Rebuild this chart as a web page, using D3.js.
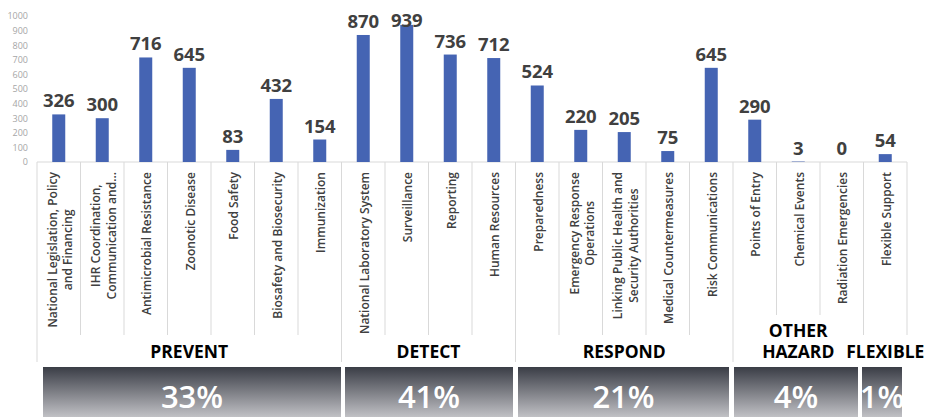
<!DOCTYPE html>
<html>
<head>
<meta charset="utf-8">
<script src="https://cdn.jsdelivr.net/npm/d3@7"></script>
<style>
  body { margin: 0; background: #fff; }
  svg { display: block; font-family: "Open Sans", "Noto Sans", sans-serif; }
</style>
</head>
<body>
<div id="chart"></div>
<script>
// categories (line breaks as in the picture)
const categories = [
  "National Legislation, Policy\nand Financing",
  "IHR Coordination,\nCommunication and...",
  "Antimicrobial Resistance",
  "Zoonotic Disease",
  "Food Safety",
  "Biosafety and Biosecurity",
  "Immunization",
  "National Laboratory System",
  "Surveillance",
  "Reporting",
  "Human Resources",
  "Preparedness",
  "Emergency Response\nOperations",
  "Linking Public Health and\nSecurity Authorities",
  "Medical Countermeasures",
  "Risk Communications",
  "Points of Entry",
  "Chemical Events",
  "Radiation Emergencies",
  "Flexible Support"
];
const values = [326, 300, 716, 645, 83, 432, 154, 870, 939, 736, 712, 524, 220, 205, 75, 645, 290, 3, 0, 54];

const groupNames = ["PREVENT", "DETECT", "RESPOND", "OTHER\nHAZARD", "FLEXIBLE"];
const groupSizes = [7, 4, 5, 3, 1];
const groupShares = ["33%", "41%", "21%", "4%", "1%"];

const yTicks = [0, 100, 200, 300, 400, 500, 600, 700, 800, 900, 1000];

const width = 936, height = 417;
const left = 37, right = 907, baseY = 162, topY = 16;

const svg = d3.select("#chart").append("svg")
  .attr("width", width).attr("height", height);

const x = d3.scaleBand().domain(d3.range(categories.length)).range([left, right]).padding(0);
const y = d3.scaleLinear().domain([0, 1000]).range([baseY, topY]);

// y axis, labels only
const yAxis = svg.append("g")
  .attr("transform", `translate(${left - 3},0)`)
  .call(d3.axisLeft(y).tickValues(yTicks).tickFormat(d3.format("d")).tickSize(0).tickPadding(6));
yAxis.select(".domain").remove();
yAxis.selectAll("text").attr("fill", "#a6a6a6").style("font-size", "9px")
  .style("font-family", "'Open Sans', sans-serif");

// group index ranges
let start = 0;
const groups = groupNames.map((name, i) => {
  const g = { name, share: groupShares[i], start, end: start + groupSizes[i] };
  start += groupSizes[i];
  return g;
});
const groupStarts = new Set(groups.map(g => g.start));

// separator lines
const lineColor = "#d9d9d9";
const sep = svg.append("g");
for (let i = 0; i <= categories.length; i++) {
  const xx = i === categories.length ? x.range()[1] : x(i);
  let bottom = 335;
  if (i === 0 || (groupStarts.has(i) && i < 19)) bottom = 362;
  if (i === 17 || i === 18) bottom = 315;
  sep.append("line")
    .attr("x1", xx).attr("x2", xx).attr("y1", baseY).attr("y2", bottom)
    .attr("stroke", lineColor).attr("stroke-width", 1);
}
svg.append("line")
  .attr("x1", left).attr("x2", right).attr("y1", baseY).attr("y2", baseY)
  .attr("stroke", lineColor);

// bars
const barW = 13;
svg.append("g").selectAll("rect").data(values).join("rect")
  .attr("x", (d, i) => x(i) + x.bandwidth() / 2 - barW / 2)
  .attr("y", d => y(d))
  .attr("width", barW)
  .attr("height", d => baseY - y(d))
  .attr("fill", "#4564b3");

// value labels (kept inside the plot area like the original)
svg.append("g").selectAll("text").data(values).join("text")
  .attr("x", (d, i) => x(i) + x.bandwidth() / 2)
  .attr("y", d => Math.max(y(d) - 7, 27))
  .attr("text-anchor", "middle")
  .attr("fill", "#404040")
  .style("font-size", "18.5px")
  .style("font-weight", "bold")
  .text(d => d);

// category labels, rotated
const catG = svg.append("g");
categories.forEach((c, i) => {
  const lines = c.split("\n");
  const cx = x(i) + x.bandwidth() / 2;
  const t = catG.append("text")
    .attr("fill", "#404040")
    .style("font-size", "12px")
    .style("font-weight", 600)
    .attr("text-anchor", "middle");
  lines.forEach((ln, j) => t.append("tspan").text(ln));
  const maxLen = d3.max(t.selectAll("tspan").nodes(), n => n.getComputedTextLength());
  const lh = 15.5;
  const off = (lines.length - 1) * lh / 2;
  t.selectAll("tspan")
    .attr("x", 0)
    .attr("y", (d, j) => j * lh - off)
    .attr("dy", "0.35em");
  t.attr("transform", `translate(${cx + 1.5},${172 + maxLen / 2}) rotate(-90)`);
});

// group labels
const grpG = svg.append("g");
groups.forEach(g => {
  const x0 = x(g.start), x1 = g.end === categories.length ? right : x(g.end);
  const lines = g.name.split("\n");
  const t = grpG.append("text")
    .attr("text-anchor", "middle")
    .attr("fill", "#000")
    .style("font-size", "17.5px")
    .style("font-weight", "bold");
  lines.forEach((ln, j) => t.append("tspan").text(ln));
  const w = d3.max(t.selectAll("tspan").nodes(), n => n.getComputedTextLength());
  const cx = Math.min((x0 + x1) / 2, width - 3 - w / 2);
  t.selectAll("tspan")
    .attr("x", cx)
    .attr("y", (d, j) => 358 - (lines.length - 1 - j) * 21.5);
});

// share boxes with gradient
const defs = svg.append("defs");
const grad = defs.append("linearGradient").attr("id", "boxGrad")
  .attr("x1", 0).attr("y1", 0).attr("x2", 0).attr("y2", 1);
grad.append("stop").attr("offset", "0%").attr("stop-color", "#3a3d46");
grad.append("stop").attr("offset", "100%").attr("stop-color", "#c6c6ca");

const boxInset = [[6, 0.5], [3.5, 2.5], [2.5, 4], [1, 5.5], [-1.5, 5]];
const boxG = svg.append("g");
groups.forEach((g, i) => {
  const x0 = x(g.start), x1 = g.end === categories.length ? right : x(g.end);
  const bx0 = x0 + boxInset[i][0], bx1 = x1 - boxInset[i][1];
  boxG.append("rect")
    .attr("x", bx0).attr("y", 367)
    .attr("width", bx1 - bx0).attr("height", 52)
    .attr("fill", "url(#boxGrad)");
  boxG.append("text")
    .attr("x", (bx0 + bx1) / 2)
    .attr("y", 408)
    .attr("text-anchor", "middle")
    .attr("fill", "#fff")
    .style("font-size", "31px")
    .style("font-weight", 600)
    .text(g.share);
});
</script>
</body>
</html>
